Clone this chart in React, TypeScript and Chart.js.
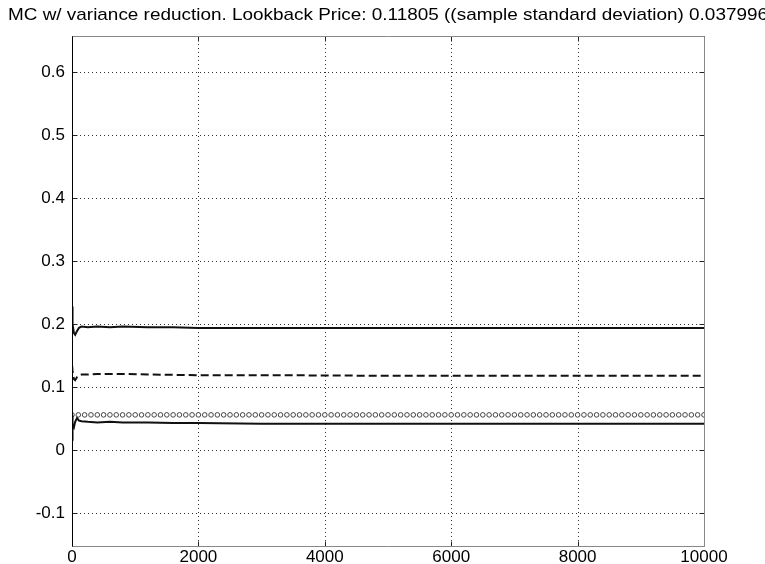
import React, { useEffect, useRef } from "react";
import { Chart, registerables } from "chart.js";

Chart.register(...registerables);

const TITLE =
  "MC w/ variance reduction. Lookback Price: 0.11805 ((sample standard deviation) 0.037996";

// Number of simulated paths at which the running estimates are shown
const sampleCounts = [
  1, 5, 12, 30, 50, 80, 110, 150, 250, 400, 600, 800, 1200, 1600, 2000, 3000,
  4000, 5000, 6000, 7000, 8000, 9000, 10000,
];
// Running estimate + 2 standard deviations
const upperBound = [
  0.228, 0.215, 0.2, 0.186, 0.183, 0.189, 0.194, 0.196, 0.195, 0.196, 0.195,
  0.196, 0.195, 0.195, 0.194, 0.194, 0.194, 0.1937, 0.1937, 0.1937, 0.1937,
  0.1937, 0.1937,
];
// Running Monte Carlo estimate of the lookback price
const runningMean = [
  0.135, 0.13, 0.122, 0.113, 0.111, 0.116, 0.119, 0.12, 0.12, 0.121, 0.121,
  0.121, 0.12, 0.1195, 0.119, 0.119, 0.1185, 0.118, 0.118, 0.118, 0.118, 0.118,
  0.11805,
];
// Running estimate - 2 standard deviations
const lowerBound = [
  0.055, 0.015, 0.04, 0.036, 0.045, 0.051, 0.047, 0.046, 0.045, 0.044, 0.045,
  0.044, 0.044, 0.043, 0.043, 0.042, 0.042, 0.0418, 0.0418, 0.0418, 0.0418,
  0.0418, 0.0418,
];
// Reference price shown with circle markers every 100 paths
const referencePrice = 0.056;
const referenceStep = 100;
const totalPaths = 10000;

const xTickValues = [0, 2000, 4000, 6000, 8000, 10000];
const xTickLabels = ["0", "2000", "4000", "6000", "8000", "10000"];
const yTickValues = [-0.1, 0, 0.1, 0.2, 0.3, 0.4, 0.5, 0.6];
const yTickLabels = ["-0.1", "0", "0.1", "0.2", "0.3", "0.4", "0.5", "0.6"];

const FONT = "'Liberation Sans', Arial, Helvetica, sans-serif";

const matlabFrame = {
  id: "matlabFrame",
  beforeDatasetsDraw(chart: any) {
    const { ctx, chartArea: a, scales } = chart;
    const T = Math.round(a.top);
    const B = Math.round(a.bottom);
    const L = Math.round(a.left);
    const R = Math.round(a.right);
    ctx.save();
    ctx.strokeStyle = "#333";
    ctx.lineWidth = 1;
    ctx.setLineDash([1, 3]);
    ctx.beginPath();
    for (const v of xTickValues) {
      const x = Math.round(scales.x.getPixelForValue(v)) + 0.5;
      ctx.moveTo(x, T);
      ctx.lineTo(x, B);
    }
    for (const v of yTickValues) {
      const y = Math.round(scales.y.getPixelForValue(v)) + 0.5;
      ctx.moveTo(L, y);
      ctx.lineTo(R, y);
    }
    ctx.stroke();
    ctx.restore();
  },
  afterDatasetsDraw(chart: any) {
    const { ctx, chartArea: a, scales } = chart;
    const T = Math.round(a.top) + 0.5;
    const B = Math.round(a.bottom) + 0.5;
    const L = Math.round(a.left) + 0.5;
    const R = Math.round(a.right) + 0.5;
    const tick = 5;
    ctx.save();
    ctx.lineWidth = 1;
    // inward tick marks
    ctx.strokeStyle = "#222";
    ctx.beginPath();
    for (const v of yTickValues) {
      const y = Math.round(scales.y.getPixelForValue(v)) + 0.5;
      ctx.moveTo(L, y);
      ctx.lineTo(L + tick, y);
      ctx.moveTo(R, y);
      ctx.lineTo(R - tick, y);
    }
    for (const v of xTickValues) {
      const x = Math.round(scales.x.getPixelForValue(v)) + 0.5;
      ctx.moveTo(x, B);
      ctx.lineTo(x, B - tick);
      ctx.moveTo(x, T);
      ctx.lineTo(x, T + tick);
    }
    ctx.stroke();
    // axes box
    ctx.strokeStyle = "#888";
    ctx.beginPath();
    ctx.moveTo(L, T);
    ctx.lineTo(R, T);
    ctx.lineTo(R, B);
    ctx.lineTo(L, B);
    ctx.stroke();
    ctx.strokeStyle = "#000";
    ctx.beginPath();
    ctx.moveTo(L, T);
    ctx.lineTo(L, B);
    ctx.stroke();
    ctx.restore();
  },
  afterDraw(chart: any) {
    const { ctx, chartArea: a } = chart;
    ctx.save();
    ctx.font = `17px ${FONT}`;
    ctx.fillStyle = "#000";
    ctx.textAlign = "center";
    ctx.textBaseline = "alphabetic";
    const w = ctx.measureText(TITLE).width;
    const sx = 760 / w;
    ctx.translate((a.left + a.right) / 2, 20);
    ctx.scale(sx, 1);
    ctx.fillText(TITLE, 0, 0);
    ctx.restore();
  },
};

export default function App() {
  const canvasRef = useRef<HTMLCanvasElement | null>(null);

  useEffect(() => {
    const canvas = canvasRef.current;
    if (!canvas) return;

    const series = (values: number[]) =>
      sampleCounts.map((x, i) => ({ x, y: values[i] }));
    const referencePoints = Array.from(
      { length: totalPaths / referenceStep + 1 },
      (_, i) => ({ x: i * referenceStep, y: referencePrice })
    );

    const chart = new Chart(canvas, {
      type: "line",
      data: {
        datasets: [
          {
            label: "upper",
            data: series(upperBound),
            borderColor: "#111",
            borderWidth: 2,
            pointRadius: 0,
            tension: 0,
          },
          {
            label: "estimate",
            data: series(runningMean),
            borderColor: "#111",
            borderWidth: 2,
            borderDash: [8, 4],
            pointRadius: 0,
            tension: 0,
          },
          {
            label: "lower",
            data: series(lowerBound),
            borderColor: "#111",
            borderWidth: 2,
            pointRadius: 0,
            tension: 0,
          },
          {
            label: "reference",
            data: referencePoints,
            showLine: false,
            pointStyle: "circle",
            pointRadius: 2.3,
            pointBorderWidth: 1,
            pointBorderColor: "#444",
            pointBackgroundColor: "#fff",
          },
        ],
      },
      options: {
        responsive: false,
        animation: false,
        devicePixelRatio: 1,
        layout: { padding: { left: 0, right: 61, top: 36, bottom: 0 } },
        plugins: {
          legend: { display: false },
          title: { display: false },
          tooltip: { enabled: false },
        },
        scales: {
          x: {
            type: "linear",
            min: 0,
            max: 10000,
            grid: { display: false, drawTicks: false },
            border: { display: false },
            afterBuildTicks: (scale: any) => {
              scale.ticks = xTickValues.map((value) => ({ value }));
            },
            afterFit: (scale: any) => {
              scale.height = 18;
            },
            ticks: {
              autoSkip: false,
              maxRotation: 0,
              padding: 1,
              color: "#000",
              font: { family: FONT, size: 17 },
              callback: (v: any) => xTickLabels[xTickValues.indexOf(Number(v))] ?? "",
            },
          },
          y: {
            type: "linear",
            min: -0.152,
            max: 0.657,
            grid: { display: false, drawTicks: false },
            border: { display: false },
            afterBuildTicks: (scale: any) => {
              scale.ticks = yTickValues.map((value) => ({ value }));
            },
            afterFit: (scale: any) => {
              scale.width = 72;
            },
            ticks: {
              autoSkip: false,
              padding: 7,
              color: "#000",
              font: { family: FONT, size: 17 },
              callback: (v: any) => {
                const idx = yTickValues.findIndex((t) => Math.abs(t - Number(v)) < 1e-9);
                return idx >= 0 ? yTickLabels[idx] : "";
              },
            },
          },
        },
      },
      plugins: [matlabFrame],
    });

    return () => chart.destroy();
  }, []);

  return (
    <div style={{ position: "absolute", left: 0, top: 0, width: 765, height: 564, background: "#fff" }}>
      <canvas ref={canvasRef} width={765} height={564} style={{ display: "block" }} />
    </div>
  );
}
